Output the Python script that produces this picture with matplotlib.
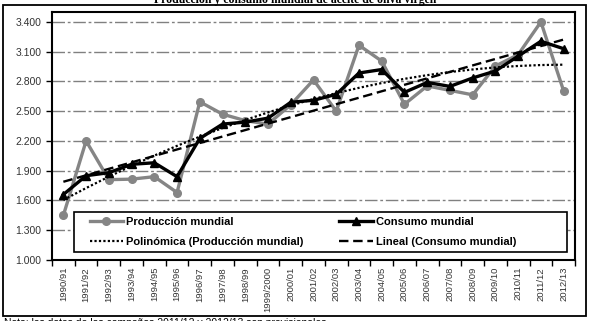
import numpy as np
import matplotlib
matplotlib.use("Agg")
import matplotlib.pyplot as plt
from matplotlib.patches import Rectangle
from matplotlib.ticker import FuncFormatter

plt.rcParams['font.family'] = ['Liberation Sans', 'DejaVu Sans']

# campaigns
seasons = ["1990/91", "1991/92", "1992/93", "1993/94", "1994/95", "1995/96",
           "1996/97", "1997/98", "1998/99", "1999/2000", "2000/01", "2001/02",
           "2002/03", "2003/04", "2004/05", "2005/06", "2006/07", "2007/08",
           "2008/09", "2009/10", "2010/11", "2011/12", "2012/13"]

# thousand tonnes
produccion = [1450, 2200, 1810, 1815, 1840, 1680, 2595, 2470, 2405, 2370,
              2565, 2815, 2500, 3165, 3005, 2570, 2755, 2710, 2665, 2955,
              3070, 3400, 2705]
consumo = [1660, 1850, 1880, 1965, 1980, 1840, 2225, 2370, 2390, 2430,
           2590, 2610, 2670, 2885, 2920, 2690, 2790, 2750, 2835, 2905,
           3055, 3205, 3130]

yticks = [1000, 1300, 1600, 1900, 2200, 2500, 2800, 3100, 3400]

titulo = "Producción y consumo mundial de aceite de oliva virgen"
nota = "Nota: los datos de las campañas 2011/12 y 2012/13 son provisionales"

x = np.arange(len(seasons))

# Excel style trend lines
poly = np.polyval(np.polyfit(x, produccion, 2), x)
lin = np.polyval(np.polyfit(x, consumo, 1), x)

fig = plt.figure(figsize=(5.9, 3.21), dpi=100)
ax = fig.add_axes([52/590, 1 - 260/321, 523/590, 248/321])

# outer frame
fig.patches.append(Rectangle((3/590, 1 - 316/321), 583/590, 311/321,
                             transform=fig.transFigure, fill=False,
                             edgecolor='black', linewidth=1.3))

ax.set_ylim(1000, 3500)
ax.set_xlim(-0.5, len(seasons) - 0.5)
ax.set_yticks(yticks)
ax.yaxis.set_major_formatter(FuncFormatter(lambda v, p: f"{int(v):,}".replace(",", ".")))

for v in yticks[1:]:
    ax.axhline(v, color='#808080', linewidth=1.0,
               linestyle=(0, (9, 2, 2, 2)), zorder=1)

l_prod, = ax.plot(x, produccion, color='#858585', linewidth=2.4, marker='o',
                  markersize=5.5, zorder=3, label='Producción mundial')
l_cons, = ax.plot(x, consumo, color='black', linewidth=2.4, marker='^',
                  markersize=6, zorder=4, label='Consumo mundial')
l_poly, = ax.plot(x, poly, color='black', linewidth=1.6, linestyle=(0, (1, 1)),
                  zorder=5, label='Polinómica (Producción mundial)')
l_lin, = ax.plot(x, lin, color='black', linewidth=1.7, linestyle=(0, (4, 2)),
                 zorder=5, label='Lineal (Consumo mundial)')

ax.set_xticks(x)
ax.set_xticklabels(seasons, rotation=90, fontsize=6.8, color='#333333')
ax.set_xticks(np.arange(-0.5, len(seasons)), minor=True)
ax.tick_params(axis='x', which='major', length=0, pad=5)
ax.tick_params(axis='x', which='minor', length=4, width=1, direction='out')
ax.tick_params(axis='y', length=4, width=1, labelsize=7.5, labelcolor='#333333')

for s in ax.spines.values():
    s.set_linewidth(1.5)

# legend box
ax.add_patch(Rectangle((0.042, 0.032), 0.943, 0.162, transform=ax.transAxes,
                       facecolor='white', edgecolor='black', linewidth=1.2,
                       zorder=6))
leg = ax.legend(handles=[l_prod, l_poly, l_cons, l_lin], ncol=2,
                loc='center left', bbox_to_anchor=(0.072, 0.113),
                frameon=False, borderaxespad=0, borderpad=0,
                handlelength=3.0, handletextpad=0.3, columnspacing=3.2,
                labelspacing=0.85, prop={'weight': 'bold', 'size': 8})
leg.set_zorder(7)

# title and note are cut by the picture edges, as in the source image
fig.text(0.5, 1 - 2.5/321, titulo, ha='center', va='baseline',
         fontsize=8.5, fontweight='bold', family='Liberation Serif')
fig.text(4/590, 1 - 318/321, nota, ha='left', va='top', fontsize=7.5)

fig.savefig("out.png", dpi=100)
